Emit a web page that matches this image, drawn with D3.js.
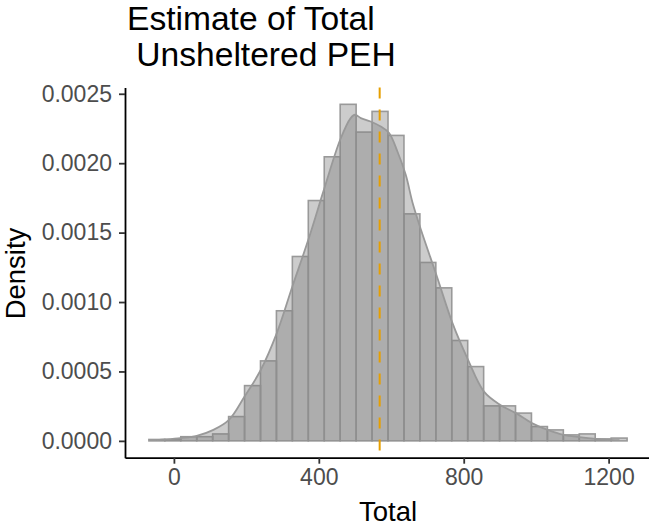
<!DOCTYPE html>
<html>
<head>
<meta charset="utf-8">
<script src="https://cdnjs.cloudflare.com/ajax/libs/d3/7.8.5/d3.min.js"></script>
<style>
  body { margin: 0; background: #fff; }
  svg { font-family: "Liberation Sans", Arial, sans-serif; }
</style>
</head>
<body>
<svg id="chart" width="649" height="527"></svg>
<script>
// histogram bin edges (Total) and bar heights (density)
const binEdges = [-69, -25, 19, 63, 107, 151, 195, 239, 283, 327, 371, 415, 459, 503, 547,
  591, 635, 679, 723, 767, 811, 855, 899, 943, 987, 1031, 1075, 1119, 1163, 1207, 1251];
const binDensity = [0.00001, 0.00001, 0.00003, 0.00003, 0.00005, 0.000175, 0.000398, 0.000576,
  0.000937, 0.001328, 0.001731, 0.002046, 0.002424, 0.002224, 0.002373, 0.0022, 0.001635,
  0.001285, 0.001102, 0.000723, 0.000535, 0.000252, 0.000252, 0.0002, 0.000103, 0.000079,
  0.000043, 0.00005, 0.000014, 0.00002];

// kernel density curve
const densX = [-47, -25, 18, 63, 109, 152, 195, 240, 284, 327, 371, 414, 459, 488, 500, 516,
  543, 571, 594, 617, 640, 659, 682, 726, 769, 812, 856, 901, 944, 988, 1032, 1076, 1119, 1165, 1206, 1230];
const densY = [0.000006, 0.00001, 0.00002, 0.000036, 0.000079, 0.000151, 0.000319, 0.000512,
  0.000776, 0.001112, 0.001448, 0.001808, 0.002169, 0.002325, 0.002349, 0.002325, 0.0023,
  0.002264, 0.002217, 0.002084, 0.001916, 0.001713, 0.00152, 0.001184, 0.000848, 0.000584,
  0.000355, 0.000259, 0.0002, 0.000128, 0.000079, 0.000043, 0.000027, 0.000014, 0.000007, 0.000005];

const meanTotal = 568;
const xTicks = [0, 400, 800, 1200];
const yTicks = [0, 0.0005, 0.001, 0.0015, 0.002, 0.0025];

const svg = d3.select('#chart');
const panel = { left: 125, right: 651, top: 87.5, bottom: 457.7 };

// ggplot-style 5% expansion
const xlo = binEdges[0], xhi = binEdges[binEdges.length - 1];
const xpad = (xhi - xlo) * 0.05;
const x = d3.scaleLinear().domain([xlo - xpad, xhi + xpad]).range([panel.left, panel.right]);
const ymax = d3.max(binDensity);
const y = d3.scaleLinear().domain([-0.05 * ymax, 1.05 * ymax]).range([panel.bottom, panel.top]);

const bins = binDensity.map((d, i) => ({ x0: binEdges[i], x1: binEdges[i + 1], d: d }));

const fillCol = '#808080', fillAlpha = 0.4, lineCol = '#999999';

// histogram
svg.append('g')
  .selectAll('rect')
  .data(bins)
  .join('rect')
  .attr('x', b => x(b.x0))
  .attr('y', b => y(b.d))
  .attr('width', b => x(b.x1) - x(b.x0))
  .attr('height', b => y(0) - y(b.d))
  .attr('fill', fillCol)
  .attr('fill-opacity', fillAlpha)
  .attr('stroke', lineCol)
  .attr('stroke-width', 1.6);

// density
const dens = densX.map((v, i) => [v, densY[i]]);
svg.append('path')
  .datum(dens)
  .attr('d', d3.area().x(d => x(d[0])).y0(y(0)).y1(d => y(d[1])).curve(d3.curveCatmullRom))
  .attr('fill', fillCol)
  .attr('fill-opacity', fillAlpha);
svg.append('path')
  .datum(dens)
  .attr('d', d3.line().x(d => x(d[0])).y(d => y(d[1])).curve(d3.curveCatmullRom))
  .attr('fill', 'none')
  .attr('stroke', lineCol)
  .attr('stroke-width', 1.8);

// mean line
svg.append('line')
  .attr('x1', x(meanTotal)).attr('x2', x(meanTotal))
  .attr('y1', panel.top).attr('y2', panel.bottom)
  .attr('stroke', '#E69F00')
  .attr('stroke-width', 2)
  .attr('stroke-dasharray', '11,11');

// axes
const xAxis = svg.append('g')
  .attr('transform', `translate(0,${panel.bottom})`)
  .call(d3.axisBottom(x).tickValues(xTicks).tickFormat(d3.format('d')).tickSize(6).tickSizeOuter(0).tickPadding(5));
const yAxis = svg.append('g')
  .attr('transform', `translate(${panel.left},0)`)
  .call(d3.axisLeft(y).tickValues(yTicks).tickFormat(d3.format('.4f')).tickSize(6).tickSizeOuter(0).tickPadding(7));

[xAxis, yAxis].forEach(a => {
  a.select('.domain').attr('stroke', '#000').attr('stroke-width', 1.8);
  a.selectAll('.tick line').attr('stroke', '#333').attr('stroke-width', 1.8);
  a.selectAll('.tick text').attr('fill', '#4d4d4d').style('font-size', '23px')
    .style('font-family', '"Liberation Sans", Arial, sans-serif');
});

// labels
svg.append('text')
  .attr('x', (panel.left + panel.right) / 2).attr('y', 521)
  .attr('text-anchor', 'middle')
  .style('font-size', '27.5px')
  .text('Total');
svg.append('text')
  .attr('transform', 'translate(25,273.5) rotate(-90)')
  .attr('text-anchor', 'middle')
  .style('font-size', '27.5px')
  .text('Density');

const title = svg.append('text')
  .style('font-size', '33.6px')
  .style('white-space', 'pre');
title.append('tspan').attr('x', panel.left + 2).attr('y', 30).text('Estimate of Total');
title.append('tspan').attr('x', panel.left + 2).attr('y', 66).text(' Unsheltered PEH');
</script>
</body>
</html>
